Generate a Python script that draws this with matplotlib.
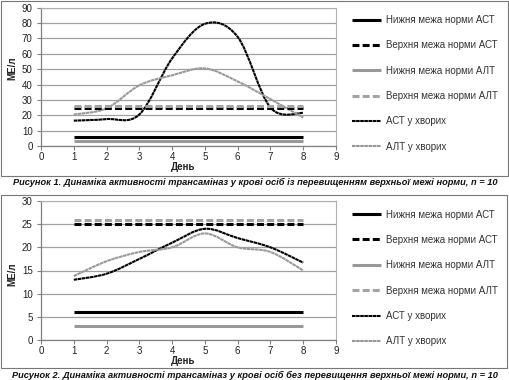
import matplotlib
matplotlib.use("Agg")
import matplotlib.pyplot as plt
from matplotlib.path import Path
from matplotlib.patches import PathPatch, Rectangle
from matplotlib.lines import Line2D

plt.rcParams['font.family'] = ['Liberation Sans', 'DejaVu Sans']
plt.rcParams['lines.scale_dashes'] = False

# days
days = [1, 2, 3, 4, 5, 6, 7, 8]

# figure 1 - patients above upper norm
ast_1 = [16.5, 17.5, 20.5, 57, 79.5, 71, 25, 21.5]
alt_1 = [20.5, 24.5, 39.5, 46, 50.5, 42, 30.5, 18.5]
# figure 2 - patients without exceeding the upper norm
ast_2 = [13, 14.3, 17.5, 21, 24, 22, 20, 16.7]
alt_2 = [13.8, 17, 19, 20, 23, 20, 19, 15]

# norm limits
ast_low = 6
ast_up = 25
alt_low = 3
alt_up = 26

labels = ['Нижня межа норми АСТ', 'Верхня межа норми АСТ',
          'Нижня межа норми АЛТ', 'Верхня межа норми АЛТ',
          'АСТ у хворих', 'АЛТ у хворих']
captions = ['Рисунок 1. Динаміка активності трансаміназ у крові осіб із перевищенням верхньої межі норми, n = 10',
            'Рисунок 2. Динаміка активності трансаміназ у крові осіб без перевищення верхньої межі норми, n = 10']

BLACK = '#000000'
GRAY = '#999999'
GRAY_D = '#a3a3a3'
DASH = (0, (5, 2.3))
DOTS = (0, (2.6, 0.35))
styles = [
    dict(color=BLACK, lw=2.2, ls='-'),
    dict(color=BLACK, lw=2.2, ls=DASH),
    dict(color=GRAY, lw=2.2, ls='-'),
    dict(color=GRAY_D, lw=2.2, ls=DASH),
    dict(color=BLACK, lw=1.5, ls=DOTS),
    dict(color=GRAY, lw=1.5, ls=DOTS),
]


def smooth_path(xs, ys):
    # excel-like smoothed line as cubic bezier through the points
    n = len(xs)
    verts = [(xs[0], ys[0])]
    codes = [Path.MOVETO]
    for i in range(n - 1):
        i0 = max(i - 1, 0)
        i3 = min(i + 2, n - 1)
        c1 = (xs[i] + (xs[i + 1] - xs[i0]) / 6, ys[i] + (ys[i + 1] - ys[i0]) / 6)
        c2 = (xs[i + 1] - (xs[i3] - xs[i]) / 6, ys[i + 1] - (ys[i3] - ys[i]) / 6)
        verts += [c1, c2, (xs[i + 1], ys[i + 1])]
        codes += [Path.CURVE4] * 3
    return Path(verts, codes)


fig = plt.figure(figsize=(5.1, 3.8), dpi=100)
W, H = 510.0, 380.0


def draw_chart(rect, frame, ast, alt, ymax, ystep, ylab_y, leg_top, caption_y, caption):
    fig.patches.append(Rectangle((frame[0] / W, 1 - frame[3] / H), (frame[2] - frame[0]) / W,
                                 (frame[3] - frame[1]) / H, transform=fig.transFigure,
                                 fill=False, edgecolor='#777777', lw=0.8))
    ax = fig.add_axes([rect[0] / W, 1 - rect[3] / H, (rect[2] - rect[0]) / W, (rect[3] - rect[1]) / H])
    ax.set_xlim(0, 9)
    ax.set_ylim(0, ymax)
    ax.set_xticks(range(0, 10))
    ax.set_yticks(range(0, ymax + 1, ystep))
    ax.yaxis.grid(True, color='#a0a0a0', lw=0.9)
    ax.set_axisbelow(True)
    for s in ['top', 'right']:
        ax.spines[s].set_color('#b0b0b0')
        ax.spines[s].set_linewidth(0.8)
    for s in ['left', 'bottom']:
        ax.spines[s].set_color('#808080')
        ax.spines[s].set_linewidth(0.9)
    ax.tick_params(axis='both', labelsize=7, colors='#808080', labelcolor='#222222',
                   length=3, width=0.8)
    ax.tick_params(axis='y', pad=3)
    ax.tick_params(axis='x', pad=1.5)

    lows_ups = [ast_low, ast_up, alt_low, alt_up]
    for val, st in zip(lows_ups, styles[:4]):
        ax.plot([days[0], days[-1]], [val, val], color=st['color'], lw=st['lw'], ls=st['ls'],
                solid_capstyle='butt', dash_capstyle='butt')
    for series, st in zip([ast, alt], styles[4:]):
        ax.add_patch(PathPatch(smooth_path(days, series), fill=False, edgecolor=st['color'],
                               lw=st['lw'], linestyle=st['ls']))

    ax.set_ylabel('МЕ/л', fontsize=7, fontweight='bold', color='#222222')
    ax.yaxis.set_label_coords(-0.08, ylab_y)
    ax.set_xlabel('День', fontsize=7, fontweight='bold', color='#222222')
    ax.xaxis.set_label_coords(0.48, -0.115)

    handles = [Line2D([], [], color=st['color'], lw=st['lw'], ls=st['ls'],
                      solid_capstyle='butt', dash_capstyle='butt') for st in styles]
    fig.legend(handles, labels, loc='upper left', bbox_to_anchor=(352 / W, 1 - leg_top / H),
               frameon=False, fontsize=7, labelcolor='#333333', handlelength=3.0,
               handletextpad=0.45, labelspacing=1.58, borderpad=0, borderaxespad=0)

    fig.text(0.5, 1 - caption_y / H, caption, ha='center', va='center', fontsize=6.65,
             fontweight='bold', fontstyle='italic', color='#111111')


draw_chart((41, 7.7, 336, 146), (1, 1, 508, 176), ast_1, alt_1, 90, 10, 0.56, 15, 182, captions[0])
draw_chart((41, 201, 336, 340), (1, 195, 507, 368), ast_2, alt_2, 30, 5, 0.47, 209.5, 375, captions[1])

fig.savefig('out.png', dpi=100)
